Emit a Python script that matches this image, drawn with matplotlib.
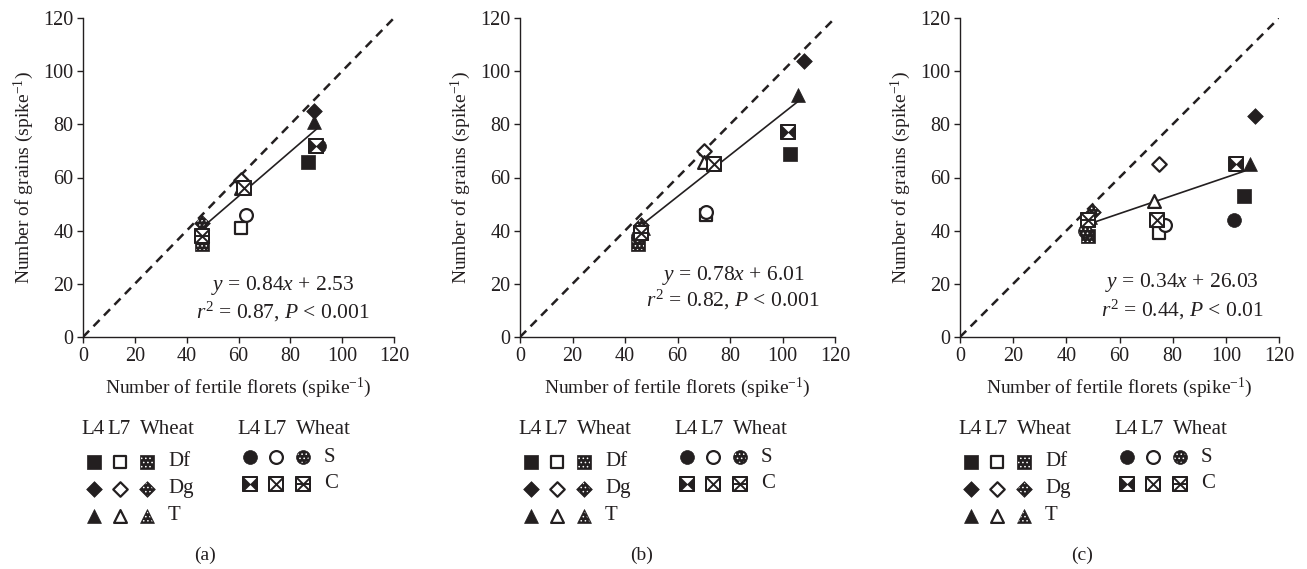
import numpy as np
import matplotlib
matplotlib.use('Agg')
import matplotlib.pyplot as plt
from matplotlib.path import Path

plt.rcParams['font.family'] = ['Liberation Serif', 'DejaVu Serif']
plt.rcParams['mathtext.fontset'] = 'custom'
plt.rcParams['mathtext.rm'] = 'Liberation Serif'
plt.rcParams['mathtext.it'] = 'Liberation Serif:italic'
plt.rcParams['hatch.color'] = 'white'
plt.rcParams['hatch.linewidth'] = 0.6

INK = '#231f20'

# species (columns) and sources (rows)
species = ['Df', 'Dg', 'T', 'S', 'C']
sources = ['L4', 'L7', 'Wheat']

# number of fertile florets (x) and grains (y), rows = L4, L7, Wheat
florets_a = [[87, 89, 89, 91, 90], [61, 61, 61, 63, 62], [46, 46, 46, 46, 46]]
grains_a = [[66, 85, 81, 72, 72], [41, 59, 56, 46, 56], [35, 43, 41, 39, 38]]

florets_b = [[103, 108, 106, 102, 102], [71, 70, 70, 71, 74], [45, 46, 47, 45, 46]]
grains_b = [[69, 104, 91, 77, 77], [46, 70, 66, 47, 65], [35, 42, 41, 38, 39]]

florets_c = [[107, 111, 109, 103, 104], [75, 75, 73, 77, 74], [48, 50, 49, 47, 48]]
grains_c = [[53, 83, 65, 44, 65], [39, 65, 51, 42, 44], [38, 47, 45, 40, 44]]

# regression results
slopes = [0.84, 0.78, 0.34]
intercepts = [2.53, 6.01, 26.03]
fit_ranges = [(46, 90), (45, 107), (49, 107)]
eq_texts = [r'$y$ = 0.84$x$ + 2.53', r'$y$ = 0.78$x$ + 6.01', r'$y$ = 0.34$x$ + 26.03']
stat_texts = [r'$r^2$ = 0.87, $P$ < 0.001', r'$r^2$ = 0.82, $P$ < 0.001', r'$r^2$ = 0.44, $P$ < 0.01']
panel_labels = ['(a)', '(b)', '(c)']

panels = [(florets_a, grains_a), (florets_b, grains_b), (florets_c, grains_c)]

W, H = 1307, 569
ax_left_px = [83, 520, 960]
ax_width_px = [311, 315, 319]
ax_top_px, ax_bottom_px = 18, 337
eq_pos = [(0.643, 0.163, 0.078), (0.676, 0.194, 0.116), (0.696, 0.170, 0.085)]

bowtie = Path([(-1, -1), (0, 0), (-1, 1), (-1, -1), (1, -1), (0, 0), (1, 1), (1, -1)],
              [Path.MOVETO, Path.LINETO, Path.LINETO, Path.CLOSEPOLY,
               Path.MOVETO, Path.LINETO, Path.LINETO, Path.CLOSEPOLY])

SHAPES = {'Df': ('s', 10), 'Dg': ('D', 8), 'T': ('^', 10), 'S': ('o', 10), 'C': ('s', 10)}


def draw_marker(ax, x, y, sp, src, tr=None, clip=True):
    kw = dict(clip_on=clip, zorder=4)
    if tr is not None:
        kw['transform'] = tr
    m, ms = SHAPES[sp]
    s = ms ** 2
    if sp == 'C':
        ax.scatter([x], [y], marker='s', s=s, facecolor='white', edgecolor=INK, linewidths=1.4, **kw)
        if src == 'L4':
            ax.scatter([x], [y], marker=bowtie, s=s, facecolor=INK, edgecolor=INK, linewidths=0.5, **kw)
        else:
            ax.scatter([x], [y], marker='x', s=s, color=INK, linewidths=1.4, **kw)
            if src == 'Wheat':
                ax.scatter([x], [y], marker='_', s=s, color=INK, linewidths=1.4, **kw)
        ax.scatter([x], [y], marker='s', s=s, facecolor='none', edgecolor=INK, linewidths=1.4, **kw)
        return
    if src == 'L4':
        ax.scatter([x], [y], marker=m, s=s, facecolor=INK, edgecolor=INK, linewidths=0.5, **kw)
    elif src == 'L7':
        ax.scatter([x], [y], marker=m, s=s * 0.85, facecolor='white', edgecolor=INK, linewidths=1.6, **kw)
    else:
        # dark marker with white dotted hatching on top
        ax.scatter([x], [y], marker=m, s=s, facecolor=INK, edgecolor=INK, linewidths=0.5, **kw)
        ax.scatter([x], [y], marker=m, s=s * 0.7, facecolor='none', edgecolor='white', linewidths=0,
                   hatch='....', **kw)


def fx(px):
    return px / W


def fy(py):
    return 1 - py / H


fig = plt.figure(figsize=(W / 100, H / 100), dpi=100)

for i, (fl, gr) in enumerate(panels):
    ax = fig.add_axes([fx(ax_left_px[i]), fy(ax_bottom_px), ax_width_px[i] / W,
                       (ax_bottom_px - ax_top_px) / H])
    ax.plot([0, 120], [0, 120], ls=(0, (3.5, 2.5)), color=INK, lw=1.8, zorder=2)
    xs = np.array(fit_ranges[i])
    ax.plot(xs, slopes[i] * xs + intercepts[i], color=INK, lw=1.2, zorder=3)

    for r, src in enumerate(sources):
        for c, sp in enumerate(species):
            draw_marker(ax, fl[r][c], gr[r][c], sp, src)

    ax.set_xlim(0, 120)
    ax.set_ylim(0, 120)
    ax.set_xticks(range(0, 121, 20))
    ax.set_yticks(range(0, 121, 20))
    for side in ['top', 'right']:
        ax.spines[side].set_visible(False)
    for side in ['left', 'bottom']:
        ax.spines[side].set_color(INK)
        ax.spines[side].set_linewidth(1.0)
    ax.tick_params(direction='out', length=4, width=1.0, colors=INK, labelsize=14.5, pad=3)
    ax.set_xlabel('Number of fertile florets (spike$^{-1}$)', fontsize=14, color=INK, labelpad=7)
    ax.set_ylabel('Number of grains (spike$^{-1}$)', fontsize=14, color=INK, labelpad=5)

    ex, ey1, ey2 = eq_pos[i]
    ax.text(ex, ey1, eq_texts[i], transform=ax.transAxes, ha='center', va='center',
            fontsize=15.5, color=INK)
    ax.text(ex, ey2, stat_texts[i], transform=ax.transAxes, ha='center', va='center',
            fontsize=15.5, color=INK)

    # key below the panel
    x0 = ax_left_px[i]
    tf = fig.transFigure
    for gx, group in [(0, species[:3]), (156, species[3:])]:
        for hx, htxt in [(10, 'L4'), (36, 'L7'), (84, 'Wheat')]:
            fig.text(fx(x0 + gx + hx), fy(430), htxt, ha='center', va='center',
                     fontsize=15, color=INK)
        row_y = [462, 489, 516] if gx == 0 else [457, 484]
        for k, sp in enumerate(group):
            for cx, src in zip([11, 37, 64], sources):
                draw_marker(ax, fx(x0 + gx + cx), fy(row_y[k]), sp, src, tr=tf, clip=False)
            fig.text(fx(x0 + gx + 85), fy(row_y[k]), sp, ha='left', va='center',
                     fontsize=15, color=INK)
    fig.text(fx(x0 + 122), fy(555), panel_labels[i], ha='center', va='center',
             fontsize=14, color=INK)

    ax.set_xlim(0, 120)
    ax.set_ylim(0, 120)

fig.savefig('out.png', dpi=100)
